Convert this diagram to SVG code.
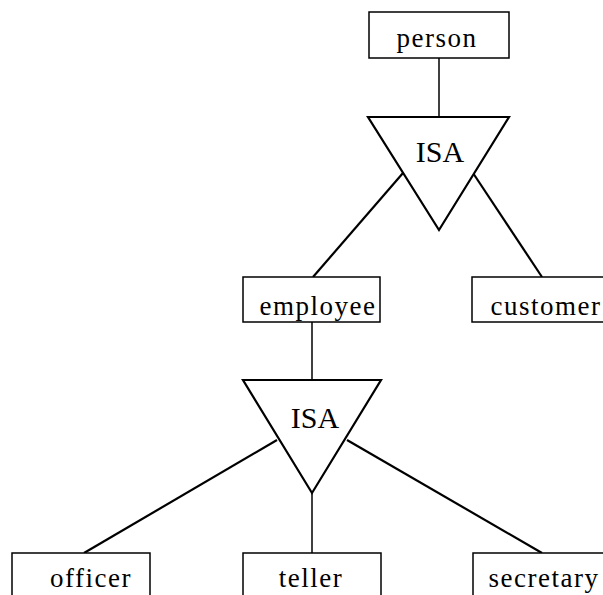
<svg xmlns="http://www.w3.org/2000/svg" width="603" height="595" viewBox="0 0 603 595">
<style>
.box{fill:#fff;stroke:#000;stroke-width:1.5}
.tri{fill:#fff;stroke:#000;stroke-width:2.2}
.ln{stroke:#000;stroke-width:2.2;fill:none}
.vl{stroke:#000;stroke-width:1.5;fill:none}
.lbl{font-family:"Liberation Serif",serif;font-size:27px;letter-spacing:1.5px;fill:#000;text-anchor:middle}
.isa{font-family:"Liberation Serif",serif;font-size:30px;fill:#000;text-anchor:middle}
</style>
<rect x="0" y="0" width="603" height="595" fill="#fff"/>
<g id="connectors">
<line class="vl" x1="439" y1="58" x2="439" y2="117"/>
<line class="ln" x1="403" y1="173" x2="313" y2="277"/>
<line class="ln" x1="473" y1="173" x2="542" y2="277"/>
<line class="vl" x1="312" y1="322" x2="312" y2="380"/>
<line class="ln" x1="277" y1="440" x2="84" y2="553"/>
<line class="ln" x1="347" y1="440" x2="542" y2="553"/>
<line class="vl" x1="312" y1="493" x2="312" y2="553"/>
</g>
<g id="person"><rect class="box" x="369" y="12" width="140" height="46"/><text class="lbl" x="437" y="47">person</text></g>
<g id="isa1"><polygon class="tri" points="368,117 509,117 439,230"/><text class="isa" x="440" y="162">ISA</text></g>
<g id="employee"><rect class="box" x="243" y="277" width="137" height="45"/><text class="lbl" x="318" y="315">employee</text></g>
<g id="customer"><rect class="box" x="472" y="277" width="140" height="45"/><text class="lbl" x="546" y="315">customer</text></g>
<g id="isa2"><polygon class="tri" points="243,380 381,380 312,493"/><text class="isa" x="315" y="428">ISA</text></g>
<g id="officer"><rect class="box" x="12" y="553" width="138" height="50"/><text class="lbl" x="91" y="587">officer</text></g>
<g id="teller"><rect class="box" x="243" y="553" width="138" height="50"/><text class="lbl" x="311" y="587">teller</text></g>
<g id="secretary"><rect class="box" x="473" y="553" width="140" height="50"/><text class="lbl" x="544" y="587">secretary</text></g>
</svg>
